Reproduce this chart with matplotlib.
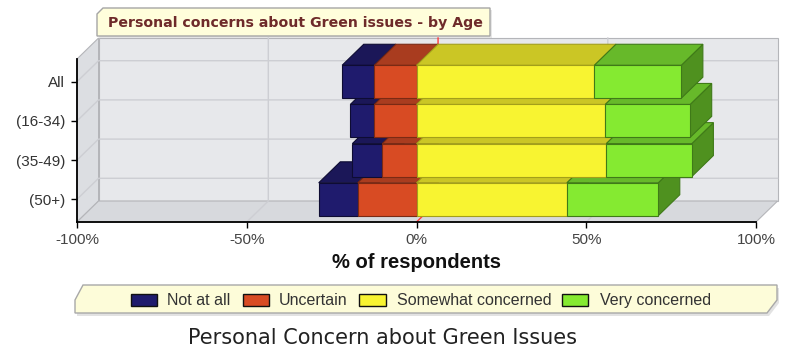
import matplotlib.pyplot as plt
from matplotlib.patches import Polygon, Rectangle

# survey shares (%) per age group, bottom row first
groups = ['(50+)', '(35-49)', '(16-34)', 'All']
not_at_all = [11.5, 8.8, 7.1, 9.5]
uncertain = [17.3, 10.1, 12.4, 12.4]
somewhat = [44.3, 55.9, 55.6, 52.4]
very = [26.9, 25.2, 25.0, 25.6]

series = ['Not at all', 'Uncertain', 'Somewhat concerned', 'Very concerned']
xticks = [-100, -50, 0, 50, 100]
xticklabels = ['-100%', '-50%', '0%', '50%', '100%']

# front, top, side, edge colour of each series
shades = {
    'Not at all': ('#1f1b6d', '#1b1758', '#151249', '#0e0c33'),
    'Uncertain': ('#d84b23', '#a93c1f', '#8f321a', '#7a2a14'),
    'Somewhat concerned': ('#f8f431', '#cbc625', '#b0ab1e', '#a39f1a'),
    'Very concerned': ('#85ea31', '#67b92a', '#4f911f', '#3f7a18'),
}

DX, DY = 6.35, 0.536      # depth of the fake 3D box in data units
BAR_H = 0.84
YMIN, YMAX = -0.58, 3.58

fig = plt.figure(figsize=(7.85, 3.51), dpi=100)
ax = fig.add_axes([77 / 785, 1 - 222 / 351, 679 / 785, 163 / 351])
ax.set_xlim(-100, 100)
ax.set_ylim(YMIN, YMAX)
ax.patch.set_alpha(0)


def poly(pts, fc, ec='none', lw=0.8, z=1):
    ax.add_patch(Polygon(pts, closed=True, facecolor=fc, edgecolor=ec,
                         linewidth=lw, zorder=z, clip_on=False))


# walls and floor
wall_ec = '#b4b5b9'
poly([(-100 + DX, YMIN + DY), (100 + DX, YMIN + DY), (100 + DX, YMAX + DY),
      (-100 + DX, YMAX + DY)], '#e7e8eb', wall_ec, z=0)
poly([(-100, YMIN), (-100 + DX, YMIN + DY), (-100 + DX, YMAX + DY),
      (-100, YMAX)], '#dcdee2', wall_ec, z=0)
poly([(-100, YMIN), (100, YMIN), (100 + DX, YMIN + DY),
      (-100 + DX, YMIN + DY)], '#d7d9dd', wall_ec, z=0)

grid_c = '#cdced3'
for i in range(len(groups)):
    ax.plot([-100, -100 + DX, 100 + DX], [i, i + DY, i + DY],
            color=grid_c, lw=1, zorder=0.5, clip_on=False)
for v in [-50, 50]:
    ax.plot([v, v + DX, v + DX], [YMIN, YMIN + DY, YMAX + DY],
            color=grid_c, lw=1, zorder=0.5, clip_on=False)
# zero line
ax.plot([0, DX, DX], [YMIN, YMIN + DY, YMAX + DY],
        color='#ff3a3a', lw=1, zorder=0.6, clip_on=False)

# stacked bars, lower rows first so upper rows sit in front
for i in range(len(groups)):
    lefts = [-not_at_all[i] - uncertain[i], -uncertain[i], 0, somewhat[i]]
    widths = [not_at_all[i], uncertain[i], somewhat[i], very[i]]
    y0, y1 = i - BAR_H / 2, i + BAR_H / 2
    for j, name in enumerate(series):
        front, top, side, edge = shades[name]
        left, w = lefts[j], widths[j]
        right = left + w
        z = 2 + i + j * 0.1
        poly([(right, y0), (right + DX, y0 + DY), (right + DX, y1 + DY), (right, y1)],
             side, edge, z=z)
        poly([(left, y1), (right, y1), (right + DX, y1 + DY), (left + DX, y1 + DY)],
             top, edge, z=z)
        ax.barh(i, w, left=left, height=BAR_H, color=front, edgecolor=edge,
                linewidth=0.8, zorder=z + 0.01)

for s in ['top', 'right']:
    ax.spines[s].set_visible(False)
for s in ['left', 'bottom']:
    ax.spines[s].set_linewidth(1.3)
    ax.spines[s].set_zorder(20)

ax.set_xticks(xticks)
ax.set_xticklabels(xticklabels, fontfamily='Liberation Sans', fontsize=11, color='#444444')
ax.set_yticks(range(len(groups)))
ax.set_yticklabels(groups, fontfamily='Liberation Sans', fontsize=11, color='#333333')
ax.tick_params(axis='x', length=4, width=1, pad=4)
ax.tick_params(axis='y', length=4, width=1, pad=4.5)
ax.set_xlabel('% of respondents', fontfamily='Liberation Sans', fontsize=14.5,
              fontweight='bold', color='#111111', labelpad=4)

# overlay in pixel coordinates for title, legend and caption
ov = fig.add_axes([0, 0, 1, 1], zorder=-1)
ov.set_xlim(0, 785)
ov.set_ylim(351, 0)
ov.axis('off')

# title box
ov.add_patch(Polygon([(99, 38), (99, 16), (105, 10), (492, 10), (492, 38)],
                     closed=True, facecolor='#d0d0d0', edgecolor='none', alpha=0.5))
ov.add_patch(Polygon([(97, 36), (97, 14), (103, 8), (490, 8), (490, 36)],
                     closed=True, facecolor='#fffedb', edgecolor='#a5a5a5', linewidth=1))
ov.text(108, 22.5, 'Personal concerns about Green issues - by Age', fontsize=10.2,
        fontweight='bold', color='#6e2a2a', va='center', ha='left')

# legend box
box = [(83, 285), (777, 285), (777, 300), (767, 313), (75, 313), (75, 300)]
ov.add_patch(Polygon([(x + 2, y + 3) for x, y in box], closed=True,
                     facecolor='#cfcfcf', edgecolor='none', alpha=0.6))
ov.add_patch(Polygon(box, closed=True, facecolor='#fdfcd9', edgecolor='#a8a8a8', linewidth=1))
sq_x = [130.7, 242.7, 359, 561.7]
txt_x = [167, 279, 396.7, 600]
for j, name in enumerate(series):
    ov.add_patch(Rectangle((sq_x[j], 294), 26.6, 12, facecolor=shades[name][0],
                           edgecolor='#111111', linewidth=1))
    ov.text(txt_x[j], 300.5, name, fontfamily='Liberation Sans', fontsize=11.5,
            color='#333333', va='center', ha='left')

ov.text(382, 338, 'Personal Concern about Green Issues', fontsize=15,
        color='#222222', va='center', ha='center')

fig.savefig('out.png', dpi=100)
